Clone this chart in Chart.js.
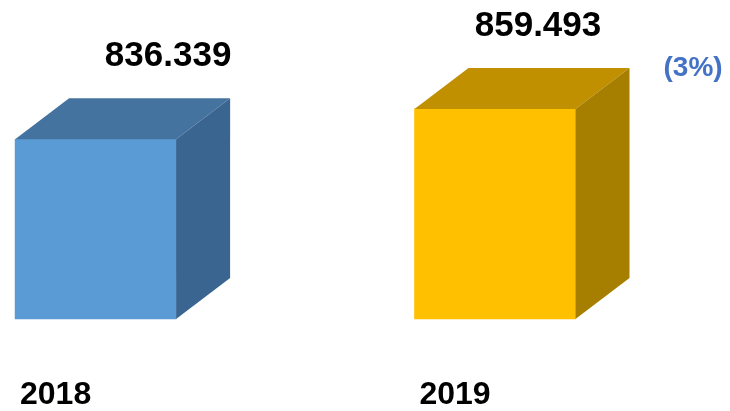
<!DOCTYPE html>
<html>
<head>
<meta charset="utf-8">
<script src="https://cdn.jsdelivr.net/npm/chart.js@4.4.1/dist/chart.umd.min.js"></script>
<style>
    html, body { margin: 0; padding: 0; background: #ffffff; }
    #wrap { width: 730px; height: 411px; position: relative; }
</style>
</head>
<body>
<div id="wrap"><canvas id="cubeCanvas"></canvas></div>
<script>
// chart values
const years = ['2018', '2019'];
const totals = [836.339, 859.493];

// colours of the three faces of each cube
const frontColors = ['#5B9BD5', '#FFC000'];
const topColors = ['#44739F', '#C09000'];
const sideColors = ['#396590', '#A67F00'];

const Y_MIN = 699;
const Y_MAX = 942.7;
const DEPTH_X = 54;
const DEPTH_Y = -41;

// draws top + side faces, value labels and the change note
const cubePlugin = {
    id: 'cubeFaces',
    afterDatasetsDraw(chart, args, opts) {
        const ctx = chart.ctx;
        const meta = chart.getDatasetMeta(0);

        meta.data.forEach((bar, i) => {
            const left = bar.x - bar.width / 2;
            const right = bar.x + bar.width / 2;
            const top = bar.y;
            const base = bar.base;

            ctx.save();
            // top face
            ctx.fillStyle = topColors[i];
            ctx.beginPath();
            ctx.moveTo(left, top);
            ctx.lineTo(left + DEPTH_X, top + DEPTH_Y);
            ctx.lineTo(right + DEPTH_X, top + DEPTH_Y);
            ctx.lineTo(right, top);
            ctx.closePath();
            ctx.fill();

            // side face
            ctx.fillStyle = sideColors[i];
            ctx.beginPath();
            ctx.moveTo(right, top);
            ctx.lineTo(right + DEPTH_X, top + DEPTH_Y);
            ctx.lineTo(right + DEPTH_X, base + DEPTH_Y);
            ctx.lineTo(right, base);
            ctx.closePath();
            ctx.fill();

            // value above the cube
            ctx.fillStyle = '#000000';
            ctx.font = 'bold 35px "Liberation Sans", Arial, sans-serif';
            ctx.textAlign = 'center';
            ctx.textBaseline = 'middle';
            const v = chart.data.datasets[0].data[i];
            ctx.fillText(v.toFixed(3), bar.x + opts.labelShift[i], top - 83);
            ctx.restore();
        });

        // change between the two years
        const last = meta.data[meta.data.length - 1];
        const change = Math.round((totals[1] / totals[0] - 1) * 100);
        ctx.save();
        ctx.fillStyle = '#4472C4';
        ctx.font = 'bold 28px "Liberation Sans", Arial, sans-serif';
        ctx.textAlign = 'left';
        ctx.textBaseline = 'middle';
        ctx.fillText('(' + change + '%)', last.x + last.width / 2 + DEPTH_X + 34, last.y + DEPTH_Y);
        ctx.restore();
    }
};

const ctx = document.getElementById('cubeCanvas').getContext('2d');

new Chart(ctx, {
    type: 'bar',
    data: {
        labels: years,
        datasets: [{
            data: totals,
            base: Y_MIN,
            clip: false,
            backgroundColor: frontColors,
            borderWidth: 0,
            barThickness: 161
        }]
    },
    options: {
        responsive: true,
        maintainAspectRatio: false,
        animation: false,
        layout: {
            padding: { left: 94.5, right: 235, top: 0, bottom: 0 }
        },
        plugins: {
            legend: { display: false },
            tooltip: { enabled: false },
            cubeFaces: { labelShift: [72.5, 43] }
        },
        scales: {
            x: {
                offset: false,
                grid: { display: false, drawTicks: false, offset: false },
                border: { display: false },
                ticks: {
                    color: '#000000',
                    padding: 60,
                    labelOffset: -40,
                    font: { family: '"Liberation Sans", Arial, sans-serif', size: 32, weight: 'bold', lineHeight: 1 }
                },
                afterFit: scale => { scale.height = 92; }
            },
            y: {
                display: false,
                min: Y_MIN,
                max: Y_MAX
            }
        }
    },
    plugins: [cubePlugin]
});
</script>
</body>
</html>
